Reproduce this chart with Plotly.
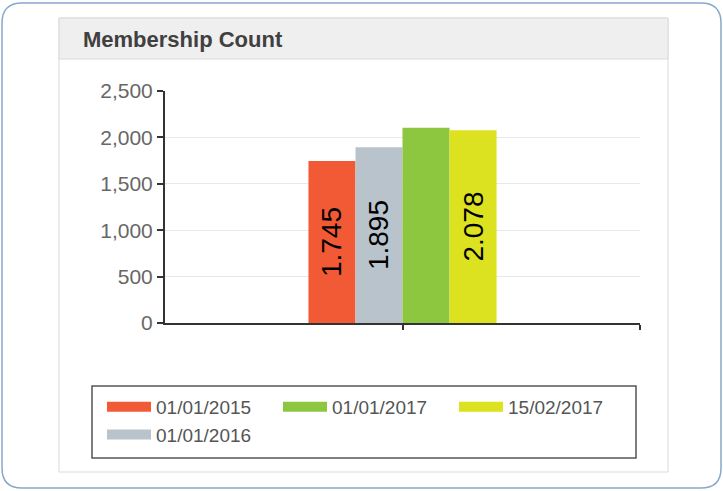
import plotly.graph_objects as go

# ---- data ----
series_names = ["01/01/2015", "01/01/2016", "01/01/2017", "15/02/2017"]
member_counts = [1745, 1895, 2104, 2078]
label_visible = [True, True, False, True]
series_colors = ["#f15a35", "#b9c3cc", "#8dc63f", "#dce21f"]
legend_ranks = [1, 4, 2, 3]
y_tick_values = [0, 500, 1000, 1500, 2000, 2500]
y_tick_labels = ["0", "500", "1,000", "1,500", "2,000", "2,500"]
title_text = "Membership Count"

W, H = 723, 491
L, R, T, B = 165, 640, 91, 323   # plot area in pixels


def px(x):
    return (x - L) / (R - L)


def py(y):
    return (B - y) / (B - T)


FONT = "Liberation Sans, Arial, sans-serif"

fig = go.Figure()

for name, val, show, col in zip(series_names, member_counts, label_visible, series_colors):
    lbl = f"{val:,}".replace(",", ".") if show else ""
    fig.add_trace(go.Bar(
        x=[0], y=[val], name=name, marker=dict(color=col, line=dict(width=0)),
        text=[lbl], textposition="inside", textangle=-90, insidetextanchor="middle",
        textfont=dict(family=FONT, size=28, color="#000000"),
        showlegend=False, hoverinfo="skip",
    ))

# legend entries
for name, col, rank in zip(series_names, series_colors, legend_ranks):
    fig.add_trace(go.Scatter(
        x=[None], y=[None], mode="lines", name=name,
        line=dict(color=col, width=10), legendrank=rank, hoverinfo="skip",
    ))

# outer rounded frame
x0, x1, y0, y1, r = 2, 721, 3, 488, 20
path = (f"M {px(x0 + r)},{py(y0)} L {px(x1 - r)},{py(y0)} "
        f"Q {px(x1)},{py(y0)} {px(x1)},{py(y0 + r)} "
        f"L {px(x1)},{py(y1 - r)} Q {px(x1)},{py(y1)} {px(x1 - r)},{py(y1)} "
        f"L {px(x0 + r)},{py(y1)} Q {px(x0)},{py(y1)} {px(x0)},{py(y1 - r)} "
        f"L {px(x0)},{py(y0 + r)} Q {px(x0)},{py(y0)} {px(x0 + r)},{py(y0)} Z")

shapes = [
    dict(type="path", xref="paper", yref="paper", path=path,
         line=dict(color="#86a9cb", width=1.5), layer="below"),
    dict(type="rect", xref="paper", yref="paper", x0=px(59), x1=px(668), y0=py(18), y1=py(472),
         line=dict(color="#dadada", width=1), fillcolor="#ffffff", layer="below"),
    dict(type="rect", xref="paper", yref="paper", x0=px(59), x1=px(668), y0=py(18), y1=py(59),
         line=dict(color="#dadada", width=1), fillcolor="#efefef", layer="below"),
    dict(type="rect", xref="paper", yref="paper", x0=px(92), x1=px(636), y0=py(386), y1=py(458),
         line=dict(color="#555555", width=1.5), layer="below"),
]

fig.update_layout(
    width=W, height=H,
    margin=dict(l=L, r=W - R, t=T, b=H - B, pad=0),
    paper_bgcolor="#ffffff", plot_bgcolor="rgba(0,0,0,0)",
    barmode="group", bargap=0.604, bargroupgap=0,
    showlegend=True,
    legend=dict(orientation="h", x=px(102), xanchor="left", y=py(388), yanchor="top",
                font=dict(family=FONT, size=19, color="#555555"),
                entrywidth=117, entrywidthmode="pixels", itemwidth=44,
                traceorder="normal", bgcolor="rgba(0,0,0,0)", borderwidth=0,
                tracegroupgap=0),
    title=dict(text=f"<b>{title_text}</b>", x=83 / W, xanchor="left", xref="container",
               y=1 - 39 / H, yanchor="middle", yref="container",
               font=dict(family=FONT, size=22, color="#404040")),
    xaxis=dict(range=[-0.5, 0.5], tickvals=[0, 0.5], showticklabels=False,
               ticks="outside", ticklen=5, tickwidth=2, tickcolor="#333333",
               showline=True, linecolor="#333333", linewidth=2,
               showgrid=False, zeroline=False, fixedrange=True),
    yaxis=dict(range=[0, 2500], tickvals=y_tick_values, ticktext=y_tick_labels,
               ticks="outside", ticklen=6, tickwidth=2, tickcolor="#333333",
               showline=True, linecolor="#333333", linewidth=2,
               showgrid=True, gridcolor="#e9e9e9", gridwidth=1, zeroline=False,
               tickfont=dict(family=FONT, size=21, color="#676767"), fixedrange=True),
    shapes=shapes,
    font=dict(family=FONT),
)

fig.write_html("out.html", config={"displayModeBar": False},
               post_script="document.body.style.margin='0';document.body.style.overflow='hidden';")
